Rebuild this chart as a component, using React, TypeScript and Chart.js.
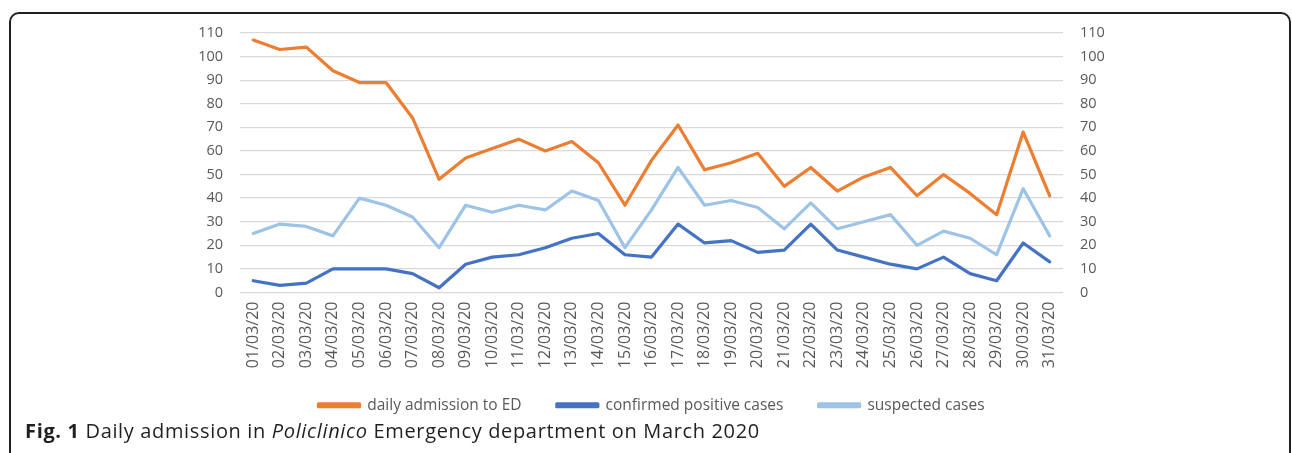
import React, { useEffect, useRef } from "react";
import { Chart, registerables } from "chart.js";

Chart.register(...registerables);

const categories = [
  "01/03/20", "02/03/20", "03/03/20", "04/03/20", "05/03/20", "06/03/20", "07/03/20", "08/03/20",
  "09/03/20", "10/03/20", "11/03/20", "12/03/20", "13/03/20", "14/03/20", "15/03/20", "16/03/20",
  "17/03/20", "18/03/20", "19/03/20", "20/03/20", "21/03/20", "22/03/20", "23/03/20", "24/03/20",
  "25/03/20", "26/03/20", "27/03/20", "28/03/20", "29/03/20", "30/03/20", "31/03/20",
];

const dailyAdmission = [107, 103, 104, 94, 89, 89, 74, 48, 57, 61, 65, 60, 64, 55, 37, 56, 71, 52, 55, 59, 45, 53, 43, 49, 53, 41, 50, 42, 33, 68, 41];
const confirmedPositive = [5, 3, 4, 10, 10, 10, 8, 2, 12, 15, 16, 19, 23, 25, 16, 15, 29, 21, 22, 17, 18, 29, 18, 15, 12, 10, 15, 8, 5, 21, 13];
const suspectedCases = [25, 29, 28, 24, 40, 37, 32, 19, 37, 34, 37, 35, 43, 39, 19, 35, 53, 37, 39, 36, 27, 38, 27, 30, 33, 20, 26, 23, 16, 44, 24];

const seriesNames = ["daily admission to ED", "confirmed positive cases", "suspected cases"];
const seriesColors = ["#ED7D31", "#4472C4", "#9DC3E6"];

const yMin = 0;
const yMax = 110;
const yStep = 10;

const FONT = "'Open Sans', sans-serif";

export default function App() {
  const canvasRef = useRef<HTMLCanvasElement | null>(null);

  useEffect(() => {
    if (!canvasRef.current) return;
    const lineCommon = {
      borderWidth: 3.2,
      pointRadius: 0,
      pointHoverRadius: 0,
      tension: 0,
      fill: false,
      borderJoinStyle: "round" as const,
      borderCapStyle: "round" as const,
    };
    const chart = new Chart(canvasRef.current, {
      type: "line",
      data: {
        labels: categories,
        datasets: [
          { ...lineCommon, label: seriesNames[0], data: dailyAdmission, borderColor: seriesColors[0], backgroundColor: seriesColors[0], yAxisID: "y" },
          { ...lineCommon, label: seriesNames[1], data: confirmedPositive, borderColor: seriesColors[1], backgroundColor: seriesColors[1], yAxisID: "y1" },
          { ...lineCommon, label: seriesNames[2], data: suspectedCases, borderColor: seriesColors[2], backgroundColor: seriesColors[2], yAxisID: "y1" },
        ],
      },
      options: {
        responsive: false,
        animation: false,
        maintainAspectRatio: false,
        layout: { padding: { left: 140, right: 129, top: 33, bottom: 0 } },
        plugins: {
          tooltip: { enabled: false },
          legend: {
            position: "bottom",
            labels: {
              boxWidth: 41,
              boxHeight: 3,
              padding: 12,
              color: "#595959",
              font: { family: FONT, size: 15.5 },
              generateLabels: (c: any) => {
                const items = Chart.defaults.plugins.legend.labels.generateLabels(c);
                return items.map((it: any, i: number) => ({
                  ...it,
                  text: i < items.length - 1 ? it.text + "\u2003\u2002" : it.text,
                }));
              },
            },
          },
        },
        scales: {
          x: {
            offset: true,
            grid: { display: false, drawTicks: false },
            border: { display: false },
            ticks: {
              minRotation: 90,
              maxRotation: 90,
              autoSkip: false,
              padding: 9,
              color: "#595959",
              font: { family: FONT, size: 16 },
            },
            afterFit: (s: any) => { s.height = 93; },
          },
          y: {
            position: "left",
            min: yMin,
            max: yMax,
            grid: { color: "#D9D9D9", lineWidth: 1.3, drawTicks: false },
            border: { display: false },
            ticks: {
              stepSize: yStep,
              padding: 17,
              color: "#595959",
              font: { family: FONT, size: 14.5 },
            },
            afterFit: (s: any) => { s.width = 100; },
          },
          y1: {
            position: "right",
            min: yMin,
            max: yMax,
            grid: { display: false, drawTicks: false },
            border: { display: false },
            ticks: {
              stepSize: yStep,
              padding: 17,
              color: "#595959",
              font: { family: FONT, size: 14.5 },
            },
            afterFit: (s: any) => { s.width = 100; },
          },
        },
      },
    });
    return () => chart.destroy();
  }, []);

  return (
    <div style={{ position: "fixed", left: 0, top: 0, width: 1292, height: 453, background: "#fff", overflow: "hidden" }}>
      <div
        style={{
          position: "absolute",
          left: 9,
          top: 12,
          width: 1282,
          height: 460,
          border: "2px solid #231f20",
          borderRadius: "10px 10px 0 0",
          boxSizing: "border-box",
        }}
      />
      <canvas ref={canvasRef} width={1292} height={423} style={{ position: "absolute", left: 0, top: 0, width: 1292, height: 423 }} />
      <div
        style={{
          position: "absolute",
          left: 25,
          top: 419,
          fontFamily: FONT,
          fontSize: 20,
          letterSpacing: "0.65px",
          color: "#231f20",
          whiteSpace: "nowrap",
          lineHeight: "24px",
        }}
      >
        <b>Fig. 1</b> Daily admission in <i>Policlinico</i> Emergency department on March 2020
      </div>
    </div>
  );
}
